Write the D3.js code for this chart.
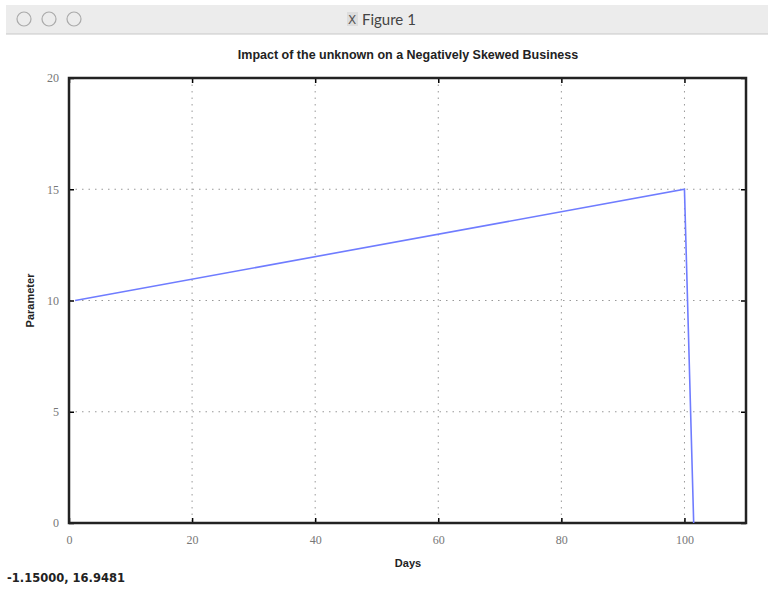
<!DOCTYPE html>
<html lang="en">
<head>
  <title>Figure 1</title>
  <style>
    body { margin: 0; background: #fff; }
    svg { display: block; font-family: "DejaVu Sans", sans-serif; }
    .grid line { stroke: #999; stroke-width: 1px; stroke-dasharray: 1.5,5; }
    .tick text { fill: #777; font-family: "Liberation Serif", serif; font-size: 12px; }
  </style>
</head>
<body>
  <script src="https://d3js.org/d3.v7.min.js"></script>
  <svg></svg>
  <script>

// Series
var days  = [1, 100, 101.5];
var param = [10, 15, 0];

var xTicks = [0, 20, 40, 60, 80, 100];
var yTicks = [0, 5, 10, 15, 20];

var width = 768, height = 590;
var margins = {top: 78, right: 22, bottom: 67, left: 69};

var svg = d3.select('svg')
            .attr('width', width)
            .attr('height', height);

// window chrome
svg.append('rect').attr('x', 6).attr('y', 5).attr('width', 762).attr('height', 29)
   .attr('fill', '#ececec');
svg.append('line').attr('x1', 6).attr('x2', 768).attr('y1', 34).attr('y2', 34)
   .attr('stroke', '#c8c8c8');
[24, 49, 74].forEach(function(cx) {
  svg.append('circle').attr('cx', cx).attr('cy', 19).attr('r', 7)
     .attr('fill', 'none').attr('stroke', '#aaa').attr('stroke-width', 1.2);
});
svg.append('rect').attr('x', 347).attr('y', 12).attr('width', 11).attr('height', 14)
   .attr('fill', '#ddd');
svg.append('text').attr('x', 352).attr('y', 24).attr('font-size', '12px').attr('fill', '#555')
   .attr('text-anchor', 'middle').text('X');
svg.append('text').attr('x', 362).attr('y', 25).attr('font-size', '15px').attr('fill', '#444')
   .attr('font-family', 'Lato, sans-serif').text('Figure 1');

var pw = width - margins.left - margins.right,
    ph = height - margins.top - margins.bottom;

var xScale = d3.scaleLinear().domain([0, 110]).range([0, pw]);
var yScale = d3.scaleLinear().domain([0, 20]).range([ph, 0]);

var g = svg.append('g')
   .attr('transform', 'translate(' + margins.left + ',' + margins.top + ')');

// grid
g.append('g').attr('class', 'grid')
 .selectAll('line').data(xTicks.slice(1)).enter().append('line')
 .attr('x1', function(d) { return xScale(d); }).attr('x2', function(d) { return xScale(d); })
 .attr('y1', 0).attr('y2', ph);
g.append('g').attr('class', 'grid')
 .selectAll('line').data(yTicks.slice(1, -1)).enter().append('line')
 .attr('y1', function(d) { return yScale(d); }).attr('y2', function(d) { return yScale(d); })
 .attr('x1', 0).attr('x2', pw);

// axes with inward ticks
g.append('g').attr('transform', 'translate(0,' + ph + ')')
 .call(d3.axisBottom(xScale).tickValues(xTicks).tickSizeInner(-5).tickSizeOuter(0).tickPadding(12));
g.append('g')
 .call(d3.axisLeft(yScale).tickValues(yTicks).tickSizeInner(-5).tickSizeOuter(0).tickPadding(10));
g.append('g').call(d3.axisTop(xScale).tickValues(xTicks).tickSizeInner(-5).tickSizeOuter(0).tickFormat(''));
g.append('g').attr('transform', 'translate(' + pw + ',0)')
 .call(d3.axisRight(yScale).tickValues(yTicks).tickSizeInner(-5).tickSizeOuter(0).tickFormat(''));
g.selectAll('.domain').remove();
g.selectAll('.tick line').attr('stroke', '#000').attr('stroke-width', 1.5);

// frame
g.append('rect').attr('width', pw).attr('height', ph)
 .attr('fill', 'none').attr('stroke', '#222').attr('stroke-width', 2.5);

// line
var line = d3.line()
  .x(function(d, i) { return xScale(days[i]); })
  .y(function(d) { return yScale(d); });
g.append('path').datum(param).attr('d', line)
 .attr('fill', 'none').attr('stroke', '#6f7cff').attr('stroke-width', 1.6);

// labels
svg.append('text').attr('x', 408).attr('y', 59).attr('text-anchor', 'middle')
   .attr('font-size', '12.5px').attr('font-weight', 'bold').attr('fill', '#222')
   .attr('font-family', '"Liberation Sans Narrow", "Liberation Sans", sans-serif')
   .text('Impact of the unknown on a Negatively Skewed Business');
svg.append('text').attr('x', 408).attr('y', 567).attr('text-anchor', 'middle')
   .attr('font-size', '11px').attr('font-weight', 'bold').attr('fill', '#222')
   .attr('font-family', '"Liberation Sans Narrow", "Liberation Sans", sans-serif')
   .text('Days');
svg.append('text').attr('transform', 'translate(34,' + (margins.top + ph / 2) + ') rotate(-90)')
   .attr('text-anchor', 'middle')
   .attr('font-size', '11px').attr('font-weight', 'bold').attr('fill', '#222')
   .attr('font-family', '"Liberation Sans Narrow", "Liberation Sans", sans-serif')
   .text('Parameter');
svg.append('text').attr('x', 7).attr('y', 582)
   .attr('font-size', '11.5px').attr('font-weight', 'bold').attr('fill', '#222')
   .text('-1.15000,  16.9481');

  </script>
</body>
</html>
